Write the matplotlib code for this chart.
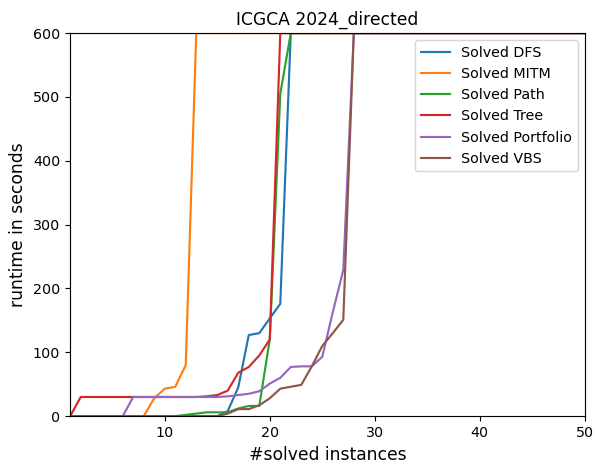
import matplotlib
matplotlib.use("Agg")
import matplotlib.pyplot as plt
import numpy as np

# runtime of the i-th solved instance (timeout = 600 s)
instances = np.arange(1, 51)

dfs = [0, 0, 0, 0, 0, 0, 0, 0, 0, 0, 0, 0, 0, 0, 0, 8, 45, 127, 130, 153,
       176, 600, 600, 600, 600, 600, 600, 600, 600, 600, 600, 600, 600, 600, 600, 600, 600, 600, 600, 600,
       600, 600, 600, 600, 600, 600, 600, 600, 600, 600]
mitm = [0, 0, 0, 0, 0, 0, 0, 0, 28, 43, 46, 80, 600, 600, 600, 600, 600, 600, 600, 600,
        600, 600, 600, 600, 600, 600, 600, 600, 600, 600, 600, 600, 600, 600, 600, 600, 600, 600, 600, 600,
        600, 600, 600, 600, 600, 600, 600, 600, 600, 600]
path = [0, 0, 0, 0, 0, 0, 0, 0, 0, 0, 0, 2, 4, 6, 6, 6, 12, 16, 16, 120,
        505, 600, 600, 600, 600, 600, 600, 600, 600, 600, 600, 600, 600, 600, 600, 600, 600, 600, 600, 600,
        600, 600, 600, 600, 600, 600, 600, 600, 600, 600]
tree = [0, 30, 30, 30, 30, 30, 30, 30, 30, 30, 30, 30, 30, 31, 33, 40, 68, 77, 95, 120,
        600, 600, 600, 600, 600, 600, 600, 600, 600, 600, 600, 600, 600, 600, 600, 600, 600, 600, 600, 600,
        600, 600, 600, 600, 600, 600, 600, 600, 600, 600]
portfolio = [0, 0, 0, 0, 0, 0, 30, 30, 30, 30, 30, 30, 30, 30, 30, 31, 33, 35, 39, 51,
             60, 77, 78, 78, 93, 163, 229, 600, 600, 600, 600, 600, 600, 600, 600, 600, 600, 600, 600, 600,
             600, 600, 600, 600, 600, 600, 600, 600, 600, 600]
vbs = [0, 0, 0, 0, 0, 0, 0, 0, 0, 0, 0, 0, 0, 0, 0, 4, 11, 11, 17, 28,
       43, 46, 49, 78, 110, 130, 151, 600, 600, 600, 600, 600, 600, 600, 600, 600, 600, 600, 600, 600,
       600, 600, 600, 600, 600, 600, 600, 600, 600, 600]

series = [("Solved DFS", dfs), ("Solved MITM", mitm), ("Solved Path", path),
          ("Solved Tree", tree), ("Solved Portfolio", portfolio), ("Solved VBS", vbs)]

dpi = 103
fig = plt.figure(figsize=(595 / dpi, 466 / dpi), dpi=dpi)
ax = fig.add_axes([0.118, 0.107, 0.865, 0.822])

for name, vals in series:
    ax.plot(instances, vals, label=name)

ax.set_xlim(1, 50)
ax.set_ylim(0, 600)
ax.set_title("ICGCA 2024_directed", fontsize=12)
ax.set_xlabel("#solved instances", fontsize=12)
ax.set_ylabel("runtime in seconds", fontsize=12)
ax.legend(loc="upper right")

fig.savefig("out.png", dpi=dpi)
